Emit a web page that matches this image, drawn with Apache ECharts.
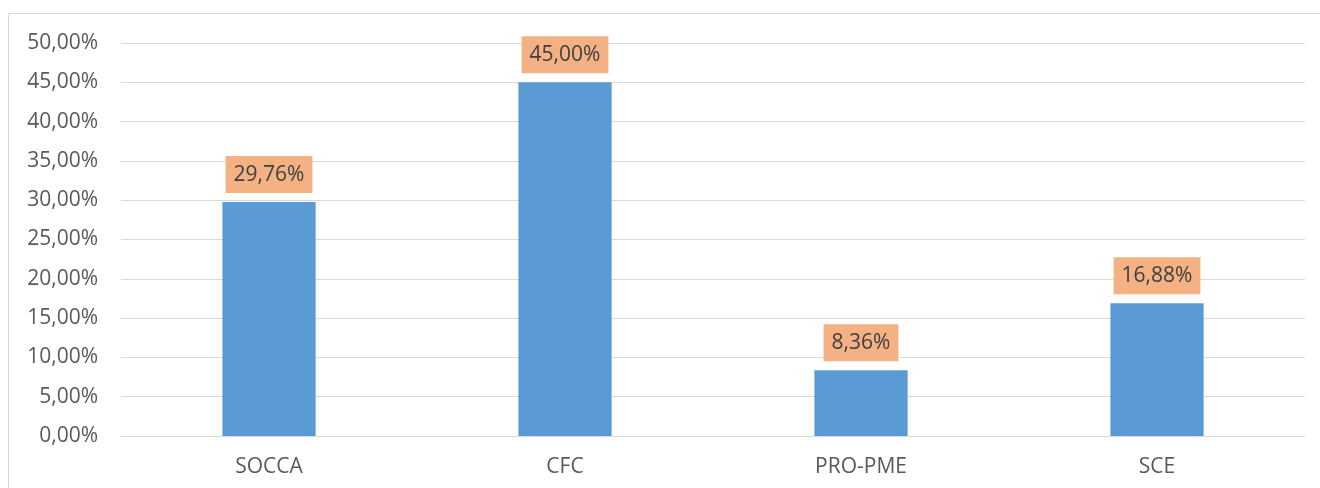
<!DOCTYPE html>
<html>
<head>
<meta charset="utf-8">
<script src="https://cdn.jsdelivr.net/npm/echarts@6/dist/echarts.min.js"></script>
<style>
  html, body { margin: 0; padding: 0; background: #fff; }
  #chart { width: 1320px; height: 488px; }
</style>
</head>
<body>
<div id="chart"></div>
<script>
const categories = ['SOCCA', 'CFC', 'PRO-PME', 'SCE']
const values = [29.76, 45.00, 8.36, 16.88]

const yMin = 0
const yMax = 50
const yStep = 5

// 0,00% style (comma decimal)
const fmtPct = (v) => Number(v).toFixed(2).replace('.', ',') + '%'

const chart = echarts.init(document.getElementById('chart'), null, { renderer: 'canvas' })

const font = '"Open Sans", "Noto Sans", sans-serif'

chart.setOption({
  animation: false,
  backgroundColor: '#fff',
  textStyle: { fontFamily: font },
  graphic: [
    {
      type: 'rect',
      shape: { x: 8.5, y: 13.5, width: 1400, height: 600 },
      style: { fill: 'none', stroke: '#d9d9d9', lineWidth: 1 },
      silent: true,
    },
  ],
  grid: { left: 121, right: 15, top: 43, bottom: 52, containLabel: false },
  xAxis: {
    type: 'category',
    data: categories,
    axisLine: { show: true, lineStyle: { color: '#d9d9d9', width: 1 } },
    axisTick: { show: false },
    axisLabel: { color: '#595959', fontSize: 21, fontFamily: font, margin: 21 },
    splitLine: { show: false },
  },
  yAxis: {
    type: 'value',
    min: yMin,
    max: yMax,
    interval: yStep,
    axisLine: { show: false },
    axisTick: { show: false },
    axisLabel: { color: '#595959', fontSize: 21, fontFamily: font, margin: 23, formatter: fmtPct },
    splitLine: { lineStyle: { color: '#d9d9d9', width: 1 } },
  },
  series: [
    {
      type: 'bar',
      data: values,
      barWidth: '31.5%',
      itemStyle: { color: '#5b9bd5' },
      label: {
        show: true,
        position: 'top',
        distance: 9,
        formatter: (p) => fmtPct(p.value),
        color: '#404040',
        fontSize: 21,
        fontFamily: font,
        backgroundColor: '#f4b183',
        padding: [8, 8, 8, 8],
      },
    },
  ],
})
</script>
</body>
</html>
